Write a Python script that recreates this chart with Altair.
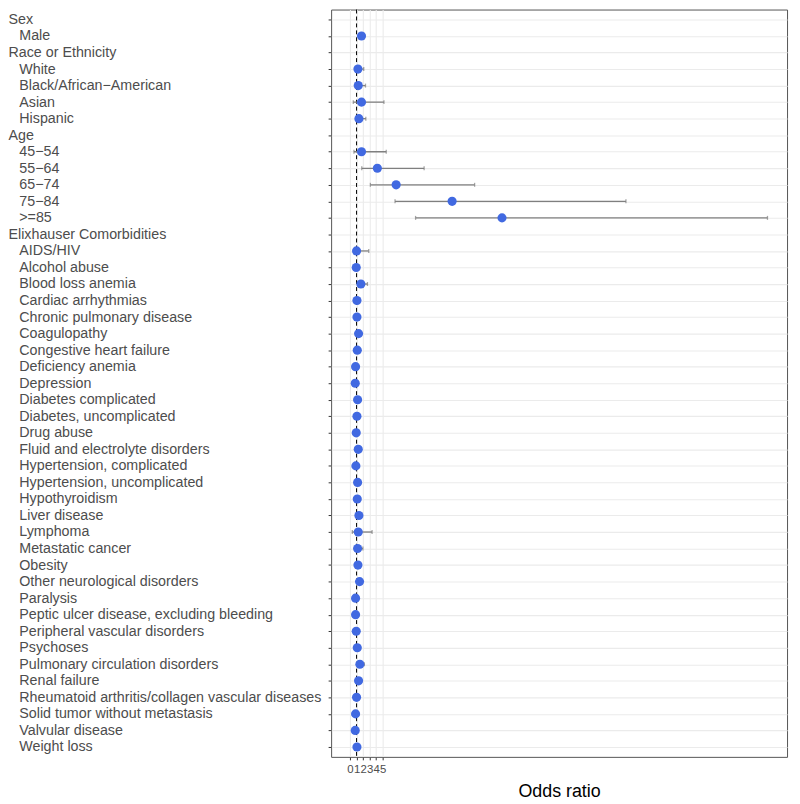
import altair as alt
import pandas as pd

IND = "\u200b\u00a0\u00a0\u2009"

labels = [
    "Sex", IND + "Male",
    "Race or Ethnicity", IND + "White", IND + "Black/African\u2212American", IND + "Asian", IND + "Hispanic",
    "Age", IND + "45\u221254", IND + "55\u221264", IND + "65\u221274", IND + "75\u221284", IND + ">=85",
    "Elixhauser Comorbidities",
    IND + "AIDS/HIV", IND + "Alcohol abuse", IND + "Blood loss anemia", IND + "Cardiac arrhythmias",
    IND + "Chronic pulmonary disease", IND + "Coagulopathy", IND + "Congestive heart failure",
    IND + "Deficiency anemia", IND + "Depression", IND + "Diabetes complicated",
    IND + "Diabetes, uncomplicated", IND + "Drug abuse", IND + "Fluid and electrolyte disorders",
    IND + "Hypertension, complicated", IND + "Hypertension, uncomplicated", IND + "Hypothyroidism",
    IND + "Liver disease", IND + "Lymphoma", IND + "Metastatic cancer", IND + "Obesity",
    IND + "Other neurological disorders", IND + "Paralysis",
    IND + "Peptic ulcer disease, excluding bleeding", IND + "Peripheral vascular disorders",
    IND + "Psychoses", IND + "Pulmonary circulation disorders", IND + "Renal failure",
    IND + "Rheumatoid arthritis/collagen vascular diseases",
    IND + "Solid tumor without metastasis", IND + "Valvular disease", IND + "Weight loss",
]

# rows that carry estimates (headers excluded)
est_rows = [l for l in labels if l.startswith(IND)]

odds = [1.76,
        1.21, 1.26, 1.76, 1.36,
        1.76, 4.19, 7.07, 15.65, 23.3,
        1.00, 0.95, 1.66, 1.06, 1.06, 1.31, 1.11, 0.85, 0.80, 1.16, 1.06, 0.95, 1.26,
        0.90, 1.16, 1.11, 1.36, 1.26, 1.16, 1.21, 1.46, 0.85, 0.85, 0.95, 1.11, 1.51,
        1.31, 1.00, 0.85, 0.80, 1.06]
ci_low = [1.60,
          0.90, 0.95, 0.50, 1.05,
          0.60, 1.80, 3.12, 6.90, 10.05,
          0.60, 0.80, 1.20, 0.95, 0.95, 1.15, 1.00, 0.70, 0.65, 1.00, 0.95, 0.80, 1.10,
          0.75, 1.05, 0.95, 1.15, 0.35, 0.90, 1.05, 1.25, 0.65, 0.65, 0.80, 0.95, 1.10,
          1.10, 0.80, 0.70, 0.65, 0.90]
ci_high = [1.95,
           2.10, 2.37, 5.20, 2.42,
           5.55, 11.36, 19.10, 42.30, 64.0,
           2.87, 1.15, 2.67, 1.20, 1.20, 1.50, 1.25, 1.00, 0.95, 1.35, 1.20, 1.10, 1.45,
           1.05, 1.30, 1.30, 1.60, 3.38, 1.97, 1.40, 1.70, 1.05, 1.05, 1.10, 1.30, 2.20,
           1.55, 1.20, 1.00, 0.95, 1.25]

df = pd.DataFrame({"label": est_rows, "or": odds, "lo": ci_low, "hi": ci_high})
ref = pd.DataFrame({"ref": [1.0]})

ycol = alt.Y("label:N", sort=labels,
             scale=alt.Scale(type="point", domain=labels, padding=0.6),
             axis=alt.Axis(title=None, labelAlign="left", labelPadding=323, tickSize=3,
                           labelFontSize=14.4, labelColor="#4d4d4d", labelFont="Liberation Sans",
                           tickColor="#333333", domain=False, grid=True, gridColor="#ebebeb",
                           gridWidth=1.1, labelBaseline="middle", labelLimit=0))
xscale = alt.Scale(domain=[-2.9, 67], nice=False, zero=False)
xaxis = alt.Axis(title="Odds ratio", values=[0, 1, 2, 3, 4, 5], labelOverlap=False,
                 labelFontSize=11.5, labelColor="#4d4d4d", labelFont="Liberation Sans",
                 tickSize=3, tickColor="#333333", domain=False, grid=True,
                 gridColor="#ebebeb", gridWidth=1.1, labelPadding=4,
                 titleFontSize=18, titleFont="Liberation Sans", titleColor="#000000",
                 titleFontWeight="normal", titlePadding=7)

base = alt.Chart(df)

grid_layer = base.mark_point(opacity=0).encode(
    x=alt.X("or:Q", scale=xscale, axis=xaxis), y=ycol)

refline = alt.Chart(ref).mark_rule(color="black", strokeDash=[4, 3], strokeWidth=1).encode(
    x=alt.X("ref:Q", scale=xscale))

bars = base.mark_rule(color="#7f7f7f", strokeWidth=1.3).encode(
    x=alt.X("lo:Q", scale=xscale), x2="hi:Q", y=alt.Y("label:N", sort=labels))

cap_lo = base.mark_tick(color="#7f7f7f", size=4, thickness=1.3).encode(
    x=alt.X("lo:Q", scale=xscale), y=alt.Y("label:N", sort=labels))
cap_hi = base.mark_tick(color="#7f7f7f", size=4, thickness=1.3).encode(
    x=alt.X("hi:Q", scale=xscale), y=alt.Y("label:N", sort=labels))

points = base.mark_circle(color="#4169E1", opacity=1, size=85).encode(
    x=alt.X("or:Q", scale=xscale), y=alt.Y("label:N", sort=labels))

chart = alt.layer(grid_layer, refline, bars, cap_lo, cap_hi, points).properties(
    width=460, height=754,
    padding={"left": 0, "top": -3, "right": 5, "bottom": 2},
).configure_view(stroke="#555555", strokeWidth=1)

chart.save("out.html", embed_options={"renderer": "svg", "actions": False})
